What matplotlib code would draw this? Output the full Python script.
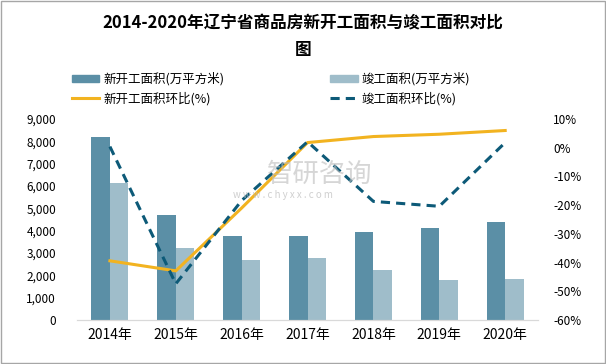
import matplotlib
matplotlib.use('Agg')
import matplotlib.pyplot as plt
import numpy as np
from matplotlib.patches import Patch
from matplotlib.lines import Line2D
from matplotlib.ticker import FuncFormatter

plt.rcParams['font.family'] = ['Noto Sans CJK SC', 'DejaVu Sans']

years = ['2014年', '2015年', '2016年', '2017年', '2018年', '2019年', '2020年']
newStart = [8200, 4680, 3740, 3780, 3960, 4140, 4410]
completed = [6120, 3240, 2700, 2790, 2250, 1800, 1850]
newStartRatio = [-39.4, -42.9, -21.0, 1.8, 3.9, 4.7, 6.0]
completedRatio = [0.4, -47.4, -18.4, 2.1, -18.7, -20.4, 1.8]

darkBar = '#5b8fa6'
lightBar = '#9fbdca'
yellow = '#f2b320'
navy = '#0d5a78'

fig = plt.figure(figsize=(6.06, 3.64), dpi=100)
ax = fig.add_axes([0.127, 0.121, 0.761, 0.552])
ax2 = ax.twinx()

x = np.arange(len(years))
w = 0.28
ax.bar(x - w/2, newStart, w, color=darkBar, zorder=2)
ax.bar(x + w/2, completed, w, color=lightBar, zorder=2)
ax2.plot(x, newStartRatio, color=yellow, lw=2.2, zorder=3)
ax2.plot(x, completedRatio, color=navy, lw=2.2, ls=(0, (3, 2)), zorder=3)

ax.set_xlim(-0.5, len(years) - 0.5)
ax.set_ylim(0, 9000)
ax.set_yticks(range(0, 9001, 1000))
ax.yaxis.set_major_formatter(FuncFormatter(lambda v, p: '{:,.0f}'.format(v)))
ax2.set_ylim(-60, 10)
ax2.set_yticks(range(-60, 11, 10))
ax2.yaxis.set_major_formatter(FuncFormatter(lambda v, p: '{:.0f}%'.format(v)))
ax.set_xticks(x)
ax.set_xticklabels(years, fontsize=10)

for a in (ax, ax2):
    for s in ['top', 'left', 'right']:
        a.spines[s].set_visible(False)
    a.spines['bottom'].set_color('#d9d9d9')
    a.tick_params(length=0, labelsize=8.5)
ax.tick_params(axis='x', labelsize=10, pad=6)
ax.tick_params(axis='y', pad=15)
ax2.tick_params(axis='y', pad=11)

fig.text(0.5, 0.935, '2014-2020年辽宁省商品房新开工面积与竣工面积对比', ha='center',
         va='center', fontsize=12, fontweight='bold')
fig.text(0.5, 0.862, '图', ha='center', va='center', fontsize=12, fontweight='bold')

handles = [Patch(color=darkBar), Patch(color=lightBar),
           Line2D([], [], color=yellow, lw=2.2),
           Line2D([], [], color=navy, lw=2.2, ls=(0, (3, 2)))]
labels = ['新开工面积(万平方米)', '竣工面积(万平方米)', '新开工面积环比(%)', '竣工面积环比(%)']
leg = fig.legend([handles[0], handles[2], handles[1], handles[3]],
                 [labels[0], labels[2], labels[1], labels[3]],
                 loc='upper left', bbox_to_anchor=(0.1, 0.832), ncol=2, frameon=False,
                 fontsize=9, handlelength=2.2, handleheight=0.5, columnspacing=8.5,
                 handletextpad=0.3, labelspacing=0.45)

fig.text(0.44, 0.52, '智研咨询', fontsize=19, color='#bbbbbb', alpha=0.6, va='center')
fig.text(0.385, 0.465, 'w w w . c h y x x . c o m', fontsize=7, color='#bbbbbb', alpha=0.7,
         va='center')

fig.patches.append(plt.Rectangle((0.001, 0.002), 0.997, 0.995, transform=fig.transFigure,
                                 fill=False, edgecolor='#a6a6a6', lw=1))

fig.savefig('out.png', dpi=100)
